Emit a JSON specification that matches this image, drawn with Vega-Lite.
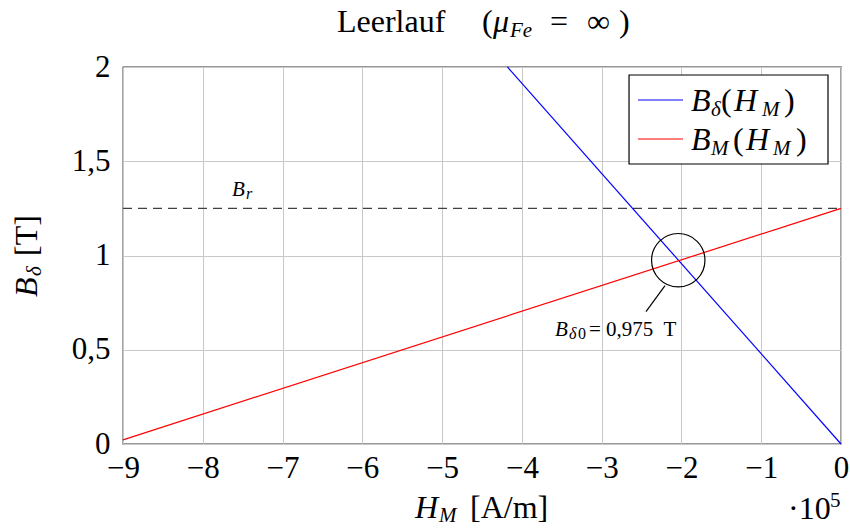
{
  "$schema": "https://vega.github.io/schema/vega-lite/v6.json",
  "width": 718,
  "height": 377,
  "autosize": {"type": "none"},
  "padding": {"left": 123, "top": 67, "right": 9, "bottom": 84},
  "background": "white",
  "config": {
    "view": {"stroke": "#333333", "strokeWidth": 1.3},
    "text": {"font": "Liberation Serif", "color": "black"}
  },
  "encoding": {
    "x": {
      "field": "x", "type": "quantitative",
      "scale": {"domain": [-9, 0], "nice": false, "zero": false},
      "axis": {
        "values": [-9, -8, -7, -6, -5, -4, -3, -2, -1, 0],
        "labelExpr": "datum.value < 0 ? '−' + abs(datum.value) : '0'",
        "title": null, "grid": true, "gridColor": "#c8c8c8", "gridWidth": 1,
        "ticks": false, "domain": false,
        "labelFont": "Liberation Serif", "labelFontSize": 31, "labelColor": "black",
        "labelPadding": 9, "labelFlush": false, "labelOverlap": false
      }
    },
    "y": {
      "field": "y", "type": "quantitative",
      "scale": {"domain": [0, 2], "nice": false, "zero": false},
      "axis": {
        "values": [0, 0.5, 1, 1.5, 2],
        "labelExpr": "replace(toString(datum.value), '.', ',')",
        "title": null, "grid": true, "gridColor": "#c8c8c8", "gridWidth": 1,
        "ticks": false, "domain": false,
        "labelFont": "Liberation Serif", "labelFontSize": 31, "labelColor": "black",
        "labelPadding": 13, "labelFlush": false, "labelOverlap": false
      }
    }
  },
  "layer": [
    {
      "data": {"values": [
        {"x": -9, "x2": 0, "y": 1.25}
      ]},
      "mark": {"type": "rule", "color": "#404040", "strokeWidth": 1.2, "strokeDash": [9, 6]},
      "encoding": {"x2": {"field": "x2"}}
    },
    {
      "data": {"values": [
        {"x": 0, "y": 0, "s": "Bd"},
        {"x": -4.18, "y": 2.0, "s": "Bd"},
        {"x": -9, "y": 0.022, "s": "BM"},
        {"x": 0, "y": 1.25, "s": "BM"}
      ]},
      "mark": {"type": "line", "strokeWidth": 1.2},
      "encoding": {
        "color": {"field": "s", "type": "nominal", "scale": {"domain": ["Bd", "BM"], "range": ["#0000ff", "#ff0000"]}, "legend": null}
      }
    },
    {
      "data": {"values": [{"x": -2.04, "y": 0.975}]},
      "mark": {"type": "point", "shape": "circle", "size": 2850, "filled": false, "color": "black", "strokeWidth": 1.2, "opacity": 1}
    },
    {
      "data": {"values": [{"x": -2.206, "y": 0.8398, "x2": -2.4443, "y2": 0.7019}]},
      "mark": {"type": "rule", "color": "black", "strokeWidth": 1.2},
      "encoding": {"x2": {"field": "x2"}, "y2": {"field": "y2"}}
    },
    {
      "data": {"values": [{"x": -2.657, "x2": -0.163, "y": 1.9576, "y2": 1.4854}]},
      "mark": {"type": "rect", "fill": "white", "stroke": "black", "strokeWidth": 1.2},
      "encoding": {"x2": {"field": "x2"}, "y2": {"field": "y2"}}
    },
    {
      "data": {"values": [
        {"x": -2.5445, "x2": -1.9805, "y": 1.8249, "s": "Bd"},
        {"x": -2.5445, "x2": -1.9805, "y": 1.618, "s": "BM"}
      ]},
      "mark": {"type": "rule", "strokeWidth": 1.2},
      "encoding": {
        "x2": {"field": "x2"},
        "color": {"field": "s", "type": "nominal", "scale": {"domain": ["Bd", "BM"], "range": ["#0000ff", "#ff0000"]}, "legend": null}
      }
    },
    {
      "data": {"values": [
        {"x": -6.3176, "y": 2.1857, "t": "Leerlauf"},
        {"x": -4.5, "y": 2.1857, "t": "("},
        {"x": -3.6476, "y": 2.1857, "t": "="},
        {"x": -3.1839, "y": 2.1857, "t": "∞"},
        {"x": -2.7827, "y": 2.1857, "t": ")"},
        {"x": -4.6504, "y": -0.3926, "t": "[A/m]"},
        {"x": -0.6644, "y": -0.3979, "t": "·10"},
        {"x": -1.5042, "y": 1.7666, "t": "("},
        {"x": -0.7145, "y": 1.7666, "t": ")"},
        {"x": -1.3538, "y": 1.5597, "t": "("},
        {"x": -0.5641, "y": 1.5597, "t": ")"}
      ]},
      "mark": {"type": "text", "font": "Liberation Serif", "fontSize": 32, "align": "left", "baseline": "alphabetic", "color": "black"},
      "encoding": {"text": {"field": "t"}}
    },
    {
      "data": {"values": [
        {"x": -4.3621, "y": 2.1857, "t": "μ"},
        {"x": -5.3398, "y": -0.3926, "t": "H"},
        {"x": -1.8802, "y": 1.7666, "t": "B"},
        {"x": -1.3413, "y": 1.7666, "t": "H"},
        {"x": -1.8802, "y": 1.5597, "t": "B"},
        {"x": -1.1908, "y": 1.5597, "t": "H"}
      ]},
      "mark": {"type": "text", "font": "Liberation Serif", "fontStyle": "italic", "fontSize": 32, "align": "left", "baseline": "alphabetic", "color": "black"},
      "encoding": {"text": {"field": "t"}}
    },
    {
      "data": {"values": [
        {"x": -4.149, "y": 2.1592, "t": "Fe"},
        {"x": -5.039, "y": -0.4138, "t": "M"},
        {"x": -1.6295, "y": 1.74, "t": "δ"},
        {"x": -0.9903, "y": 1.74, "t": "M"},
        {"x": -1.6295, "y": 1.5332, "t": "M"},
        {"x": -0.8524, "y": 1.5332, "t": "M"},
        {"x": -7.6337, "y": 1.3156, "t": "B"},
        {"x": -3.585, "y": 0.5729, "t": "B"}
      ]},
      "mark": {"type": "text", "font": "Liberation Serif", "fontStyle": "italic", "fontSize": 21, "align": "left", "baseline": "alphabetic", "color": "black"},
      "encoding": {"text": {"field": "t"}}
    },
    {
      "data": {"values": [
        {"x": -0.1379, "y": -0.3342, "t": "5"},
        {"x": -3.1588, "y": 0.5729, "t": "="},
        {"x": -2.9457, "y": 0.5729, "t": "0,975"},
        {"x": -2.2237, "y": 0.5729, "t": "T"}
      ]},
      "mark": {"type": "text", "font": "Liberation Serif", "fontSize": 21, "align": "left", "baseline": "alphabetic", "color": "black"},
      "encoding": {"text": {"field": "t"}}
    },
    {
      "data": {"values": [
        {"x": -7.4582, "y": 1.2997, "t": "r"},
        {"x": -3.4095, "y": 0.557, "t": "δ"}
      ]},
      "mark": {"type": "text", "font": "Liberation Serif", "fontStyle": "italic", "fontSize": 16, "align": "left", "baseline": "alphabetic", "color": "black"},
      "encoding": {"text": {"field": "t"}}
    },
    {
      "data": {"values": [
        {"x": -3.2967, "y": 0.557, "t": "0"}
      ]},
      "mark": {"type": "text", "font": "Liberation Serif", "fontSize": 16, "align": "left", "baseline": "alphabetic", "color": "black"},
      "encoding": {"text": {"field": "t"}}
    },
    {
      "data": {"values": [
        {"x": -10.078, "y": 0.7798, "t": "B"}
      ]},
      "mark": {"type": "text", "font": "Liberation Serif", "fontStyle": "italic", "fontSize": 32, "angle": 270, "align": "left", "baseline": "alphabetic", "color": "black"},
      "encoding": {"text": {"field": "t"}}
    },
    {
      "data": {"values": [
        {"x": -10.0278, "y": 0.8912, "t": "δ"}
      ]},
      "mark": {"type": "text", "font": "Liberation Serif", "fontStyle": "italic", "fontSize": 21, "angle": 270, "align": "left", "baseline": "alphabetic", "color": "black"},
      "encoding": {"text": {"field": "t"}}
    },
    {
      "data": {"values": [
        {"x": -10.078, "y": 0.9973, "t": "[T]"}
      ]},
      "mark": {"type": "text", "font": "Liberation Serif", "fontSize": 32, "angle": 270, "align": "left", "baseline": "alphabetic", "color": "black"},
      "encoding": {"text": {"field": "t"}}
    }
  ]
}
